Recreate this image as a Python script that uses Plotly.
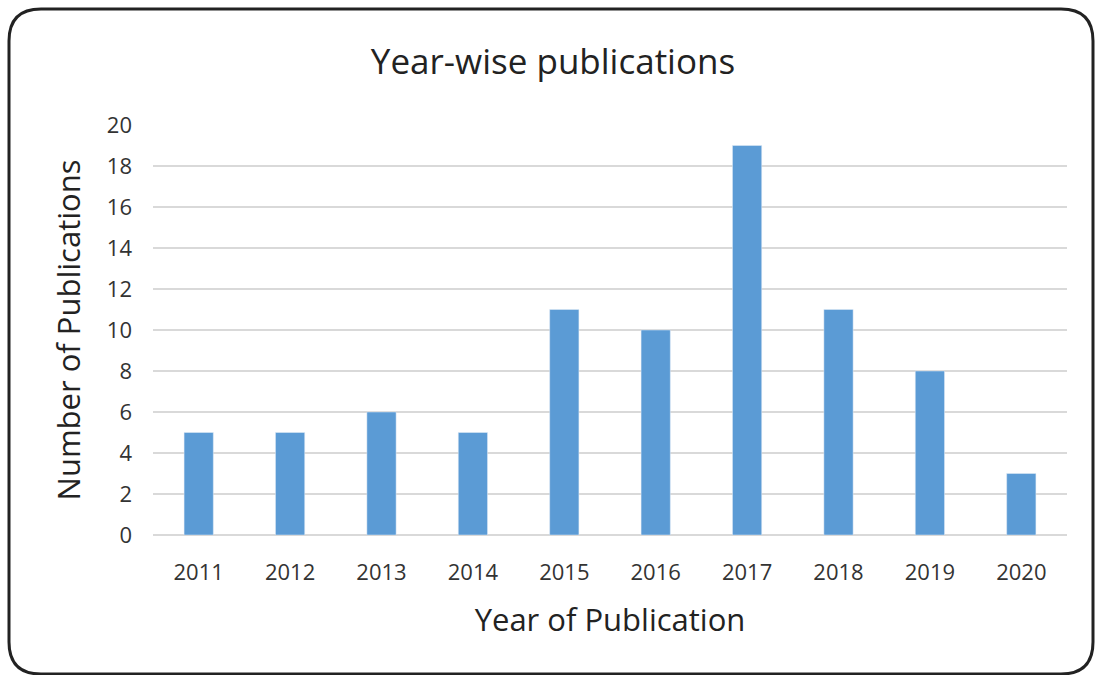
import plotly.graph_objects as go

years = ["2011", "2012", "2013", "2014", "2015", "2016", "2017", "2018", "2019", "2020"]
counts = [5, 5, 6, 5, 11, 10, 19, 11, 8, 3]
y_ticks = [0, 2, 4, 6, 8, 10, 12, 14, 16, 18, 20]

W, H = 1095, 675
L, R, T, B = 153, 28, 125, 140
PW, PH = W - L - R, H - T - B

def px(x):
    return (x - L) / PW

def py(y):
    return (H - B - y) / PH

FONT = "Open Sans"

fig = go.Figure(go.Bar(
    x=years, y=counts, marker_color="#5B9BD5", width=0.32,
))

# rounded border
x0, y0, x1, y1, r = 9, 9, 1093, 674, 32
path = (
    f"M {px(x0 + r)},{py(y0)} L {px(x1 - r)},{py(y0)} "
    f"Q {px(x1)},{py(y0)} {px(x1)},{py(y0 + r)} "
    f"L {px(x1)},{py(y1 - r)} Q {px(x1)},{py(y1)} {px(x1 - r)},{py(y1)} "
    f"L {px(x0 + r)},{py(y1)} Q {px(x0)},{py(y1)} {px(x0)},{py(y1 - r)} "
    f"L {px(x0)},{py(y0 + r)} Q {px(x0)},{py(y0)} {px(x0 + r)},{py(y0)} Z"
)
fig.add_shape(type="path", path=path, xref="paper", yref="paper",
              line=dict(color="#222222", width=3), layer="above")

fig.update_layout(
    width=W, height=H,
    margin=dict(l=L, r=R, t=T, b=B),
    paper_bgcolor="white", plot_bgcolor="white",
    showlegend=False,
    title=dict(text="Year-wise publications", x=553 / W, xanchor="center",
               y=1 - 62 / H, yanchor="middle",
               font=dict(family=FONT, size=35, color="#222222")),
    font=dict(family=FONT, color="#333333"),
)
fig.update_xaxes(
    type="category", showgrid=False, showline=False, ticks="",
    tickfont=dict(size=22, color="#333333"), ticklabelstandoff=22,
    title=dict(text="Year of Publication", font=dict(size=31, color="#222222"), standoff=24),
)
fig.update_yaxes(
    range=[0, 20], tickvals=y_ticks, showgrid=True, gridcolor="#d9d9d9", gridwidth=2,
    zeroline=True, zerolinecolor="#d9d9d9", zerolinewidth=2, showline=False, ticks="",
    tickfont=dict(size=22, color="#333333"), ticklabelstandoff=20,
    title=dict(text="Number of Publications", font=dict(size=31, color="#222222"), standoff=16),
)

fig.write_html("out.html")
